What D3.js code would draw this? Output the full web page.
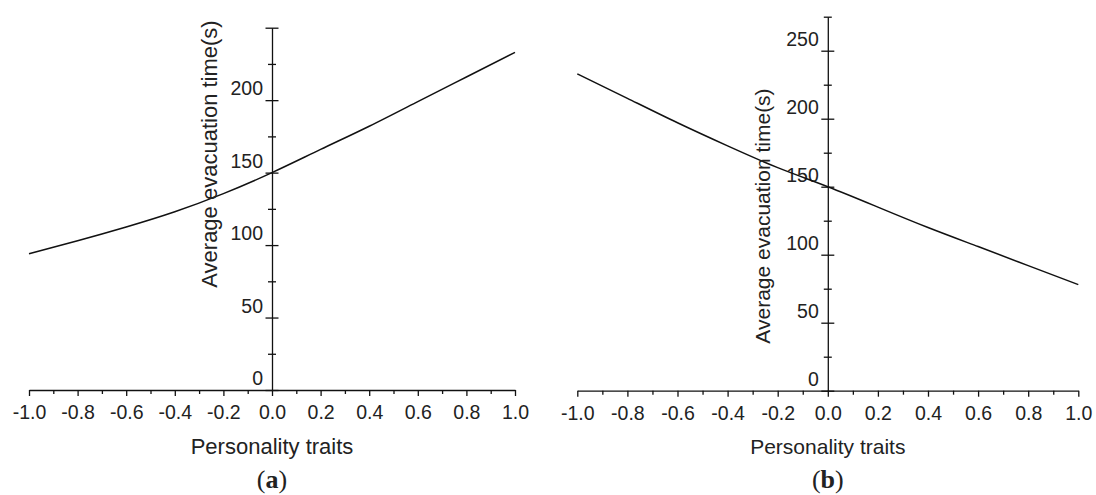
<!DOCTYPE html>
<html>
<head>
<meta charset="utf-8">
<script src="https://cdn.jsdelivr.net/npm/d3@7"></script>
<style>
  html, body { margin: 0; padding: 0; background: #fff; }
  svg { display: block; }
  text { font-family: "Liberation Sans", Arial, sans-serif; fill: #222; }
</style>
</head>
<body>
<svg id="chart" width="1096" height="495"></svg>
<script>
// ---- data ----
const traits = [-1.0, -0.8, -0.6, -0.4, -0.2, 0.0, 0.2, 0.4, 0.6, 0.8, 1.0];
const timeA = [94, 103, 112.5, 123, 135.5, 150, 166, 182, 199, 216, 233];
const timeB = [233, 215, 197, 180, 164, 150, 135, 120, 106, 92, 78];
const xTickValues = [-1.0, -0.8, -0.6, -0.4, -0.2, 0.0, 0.2, 0.4, 0.6, 0.8, 1.0];
const xMinorValues = [-0.9, -0.7, -0.5, -0.3, -0.1, 0.1, 0.3, 0.5, 0.7, 0.9];
const yTicksA = [0, 50, 100, 150, 200];
const yTicksB = [0, 50, 100, 150, 200, 250];
const xLabel = "Personality traits";
const yLabel = "Average evacuation time(s)";

const svg = d3.select("#chart");

function panel(cfg) {
  const x = d3.scaleLinear().domain([-1, 1]).range(cfg.xRange);
  const y = d3.scaleLinear().domain([0, cfg.yMax]).range(cfg.yRange);
  const g = svg.append("g");
  const x0 = x(0);
  const y0 = y(0);

  // x axis
  const xAxis = d3.axisBottom(x).tickValues(xTickValues).tickSize(6).tickSizeOuter(0)
    .tickFormat(d => d.toFixed(1));
  const gx = g.append("g").attr("transform", `translate(0,${y0})`).call(xAxis);
  gx.select(".domain").attr("stroke", "#111").attr("stroke-width", 1.3);
  gx.selectAll(".tick line").attr("stroke", "#111").attr("stroke-width", 1.3);
  gx.selectAll(".tick text").attr("font-size", 19.5).attr("y", 15).attr("dy", "0.71em")
    .style("font-family", "Liberation Sans, Arial, sans-serif").attr("fill", "#1a1a1a");
  const gxm = g.append("g").attr("transform", `translate(0,${y0})`)
    .call(d3.axisBottom(x).tickValues(xMinorValues).tickSize(4).tickFormat(""));
  gxm.select(".domain").remove();
  gxm.selectAll(".tick line").attr("stroke", "#111").attr("stroke-width", 1.3);

  // y axis (crossing ticks)
  const yAxis = d3.axisLeft(y).tickValues(cfg.yTicks.concat(cfg.yTopMajor ? [cfg.yMax] : []))
    .tickSizeOuter(0).tickFormat(d => cfg.yTicks.includes(d) ? d : "");
  const gy = g.append("g").attr("transform", `translate(${x0},0)`).call(yAxis);
  gy.select(".domain").attr("stroke", "#111").attr("stroke-width", 1.3);
  gy.selectAll(".tick line").attr("x1", -6.5).attr("x2", 6.5).attr("stroke", "#111").attr("stroke-width", 1.3);
  gy.selectAll(".tick text").attr("font-size", 19.5).attr("x", -9).attr("y", -12).attr("dy", "0.35em")
    .style("font-family", "Liberation Sans, Arial, sans-serif").attr("fill", "#1a1a1a");
  const minor = d3.range(25, cfg.yMax + 1, 50);
  const gym = g.append("g").attr("transform", `translate(${x0},0)`)
    .call(d3.axisLeft(y).tickValues(minor).tickFormat(""));
  gym.select(".domain").remove();
  gym.selectAll(".tick line").attr("x1", -4).attr("x2", 4).attr("stroke", "#111").attr("stroke-width", 1.3);

  // curve
  const line = d3.line().x((d, i) => x(traits[i])).y(d => y(d)).curve(d3.curveNatural);
  g.append("path").datum(cfg.values).attr("d", line)
    .attr("fill", "none").attr("stroke", "#111").attr("stroke-width", 1.5);

  // axis titles
  g.append("text").attr("x", x0).attr("y", cfg.xTitleY).attr("text-anchor", "middle")
    .attr("font-size", cfg.titleSize).text(xLabel);
  g.append("text").attr("transform", `translate(${cfg.yTitleX},${cfg.yTitleY}) rotate(-90)`)
    .attr("text-anchor", "middle").attr("font-size", cfg.titleSize).text(yLabel);

  // caption
  const cap = g.append("text").attr("x", x0).attr("y", 488).attr("text-anchor", "middle")
    .attr("font-size", 26).style("font-family", "Liberation Serif, DejaVu Serif, serif").attr("fill", "#111");
  cap.append("tspan").text("(");
  cap.append("tspan").attr("font-weight", "bold").text(cfg.caption);
  cap.append("tspan").text(")");
}

panel({
  xRange: [29, 515], yRange: [390, 27.7], yMax: 250, yTicks: yTicksA, yTopMajor: true,
  values: timeA, xTitleY: 454, yTitleX: 216.5, yTitleY: 154, caption: "a", titleSize: 22
});
panel({
  xRange: [577.3, 1078.3], yRange: [390.7, 16.7], yMax: 275, yTicks: yTicksB, yTopMajor: false,
  values: timeB, xTitleY: 454, yTitleX: 770, yTitleY: 216, caption: "b", titleSize: 21
});
</script>
</body>
</html>
